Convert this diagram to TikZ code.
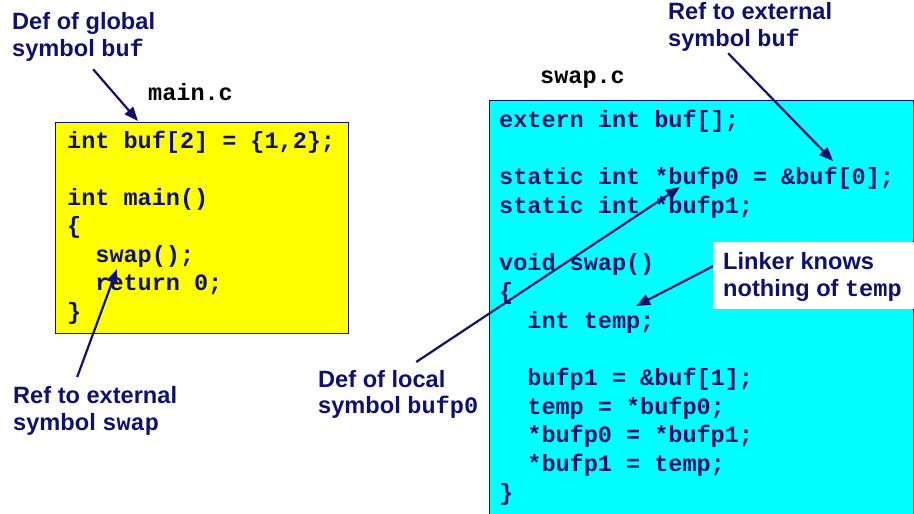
\documentclass[tikz,border=0pt]{standalone}
\usepackage{fontspec}
\setmainfont{Liberation Sans}
\setmonofont{Liberation Mono}
\usetikzlibrary{positioning,arrows.meta}
\definecolor{navy}{RGB}{16,16,110}
\definecolor{mainyellow}{RGB}{255,255,0}
\definecolor{swapcyan}{RGB}{0,255,255}
\newcommand\lcode[1]{{\ttfamily #1}}
\newcommand\codefont{\fontsize{23.5}{28.5}\selectfont\ttfamily\bfseries}
\newcommand\notefont{\fontsize{23.6}{27}\selectfont\bfseries}
\begin{document}
\begin{tikzpicture}[x=1pt, y=-1pt,
codebox/.style={rectangle, draw=navy, line width=1.2pt, inner sep=0pt, anchor=north west},
code/.style={inner sep=0pt, align=left, text=navy, font=\codefont},
filename/.style={inner sep=0pt, anchor=base west, font=\codefont},
note/.style={inner sep=0pt, align=left, text=navy, font=\notefont, anchor=north west},
pointer/.style={draw=navy, line width=2.2pt, -{Triangle[length=14pt,width=11pt]}},
]
\useasboundingbox (0,0) rectangle (914,514);
%Boxes
\node[codebox, fill=mainyellow, minimum width=293pt, minimum height=211pt] (mainbox) at (55,122) {};
\node[codebox, fill=swapcyan, minimum width=424pt, minimum height=430pt] (swapbox) at (489,100) {};
\node[filename] (mainname) at (148,100) {main.c};
\node[filename] (swapname) at (540,83) {swap.c};
%Code
\node[code, below right=6pt and 12pt of mainbox.north west] (maincode) {\rule{0pt}{20pt}int buf[2] = \{1,2\};\\[28.5pt]
int main()\\
\{\\
\hphantom{xx}swap();\\
\hphantom{xx}return 0;\\
\}};
\node[code, font=\codefont\fontsize{23.5}{28.7}\selectfont, below right=7pt and 10pt of swapbox.north west] (swapcode) {\rule{0pt}{20pt}extern int buf[];\\[28.7pt]
static int *bufp0 = \&buf[0];\\
static int *bufp1;\\[28.7pt]
void swap()\\
\{\\
\hphantom{xx}int temp;\\[28.7pt]
\hphantom{xx}bufp1 = \&buf[1];\\
\hphantom{xx}temp = *bufp0;\\
\hphantom{xx}*bufp0 = *bufp1;\\
\hphantom{xx}*bufp1 = temp;\\
\}};
%Notes
\node[note] (globalnote) at (12,10) {\rule{0pt}{19pt}Def of global\\ symbol \lcode{buf}};
\node[note] (swapnote) at (13,384) {\rule{0pt}{19pt}Ref to external\\ symbol \lcode{swap}};
\node[note] (externnote) at (668,0) {\rule{0pt}{19pt}Ref to external\\ symbol \lcode{buf}};
\node[note, font=\fontsize{23.6}{26}\selectfont\bfseries] (localnote) at (318,368) {\rule{0pt}{19pt}Def of local\\ symbol \lcode{bufp0}};
\node[rectangle, fill=white, inner sep=0pt, minimum width=201pt, minimum height=67pt, anchor=north west] (linkerbg) at (713,242) {};
\node[note, below right=8pt and 10pt of linkerbg.north west] (linkernote) {\rule{0pt}{19pt}Linker knows\\ nothing of \lcode{temp}};
%Targets
\coordinate (bufdef) at (138,121);
\coordinate (swapcall) at (117,269);
\coordinate (bufref) at (833,161);
\coordinate (bufpdef) at (680,187);
\coordinate (tempdecl) at (636,306);
%Lines
\draw[pointer] ([xshift=9.5pt, yshift=-8pt]globalnote.south) -- (bufdef);
\draw[pointer] ([xshift=-18pt, yshift=7pt]swapnote.north) -- (swapcall);
\draw[pointer] ([xshift=-22pt, yshift=-2pt]externnote.south) -- (bufref);
\draw[pointer] ([xshift=18pt, yshift=6pt]localnote.north) -- (bufpdef);
\draw[pointer] ([yshift=9.5pt]linkerbg.west) -- (tempdecl);
\end{tikzpicture}
\end{document}
